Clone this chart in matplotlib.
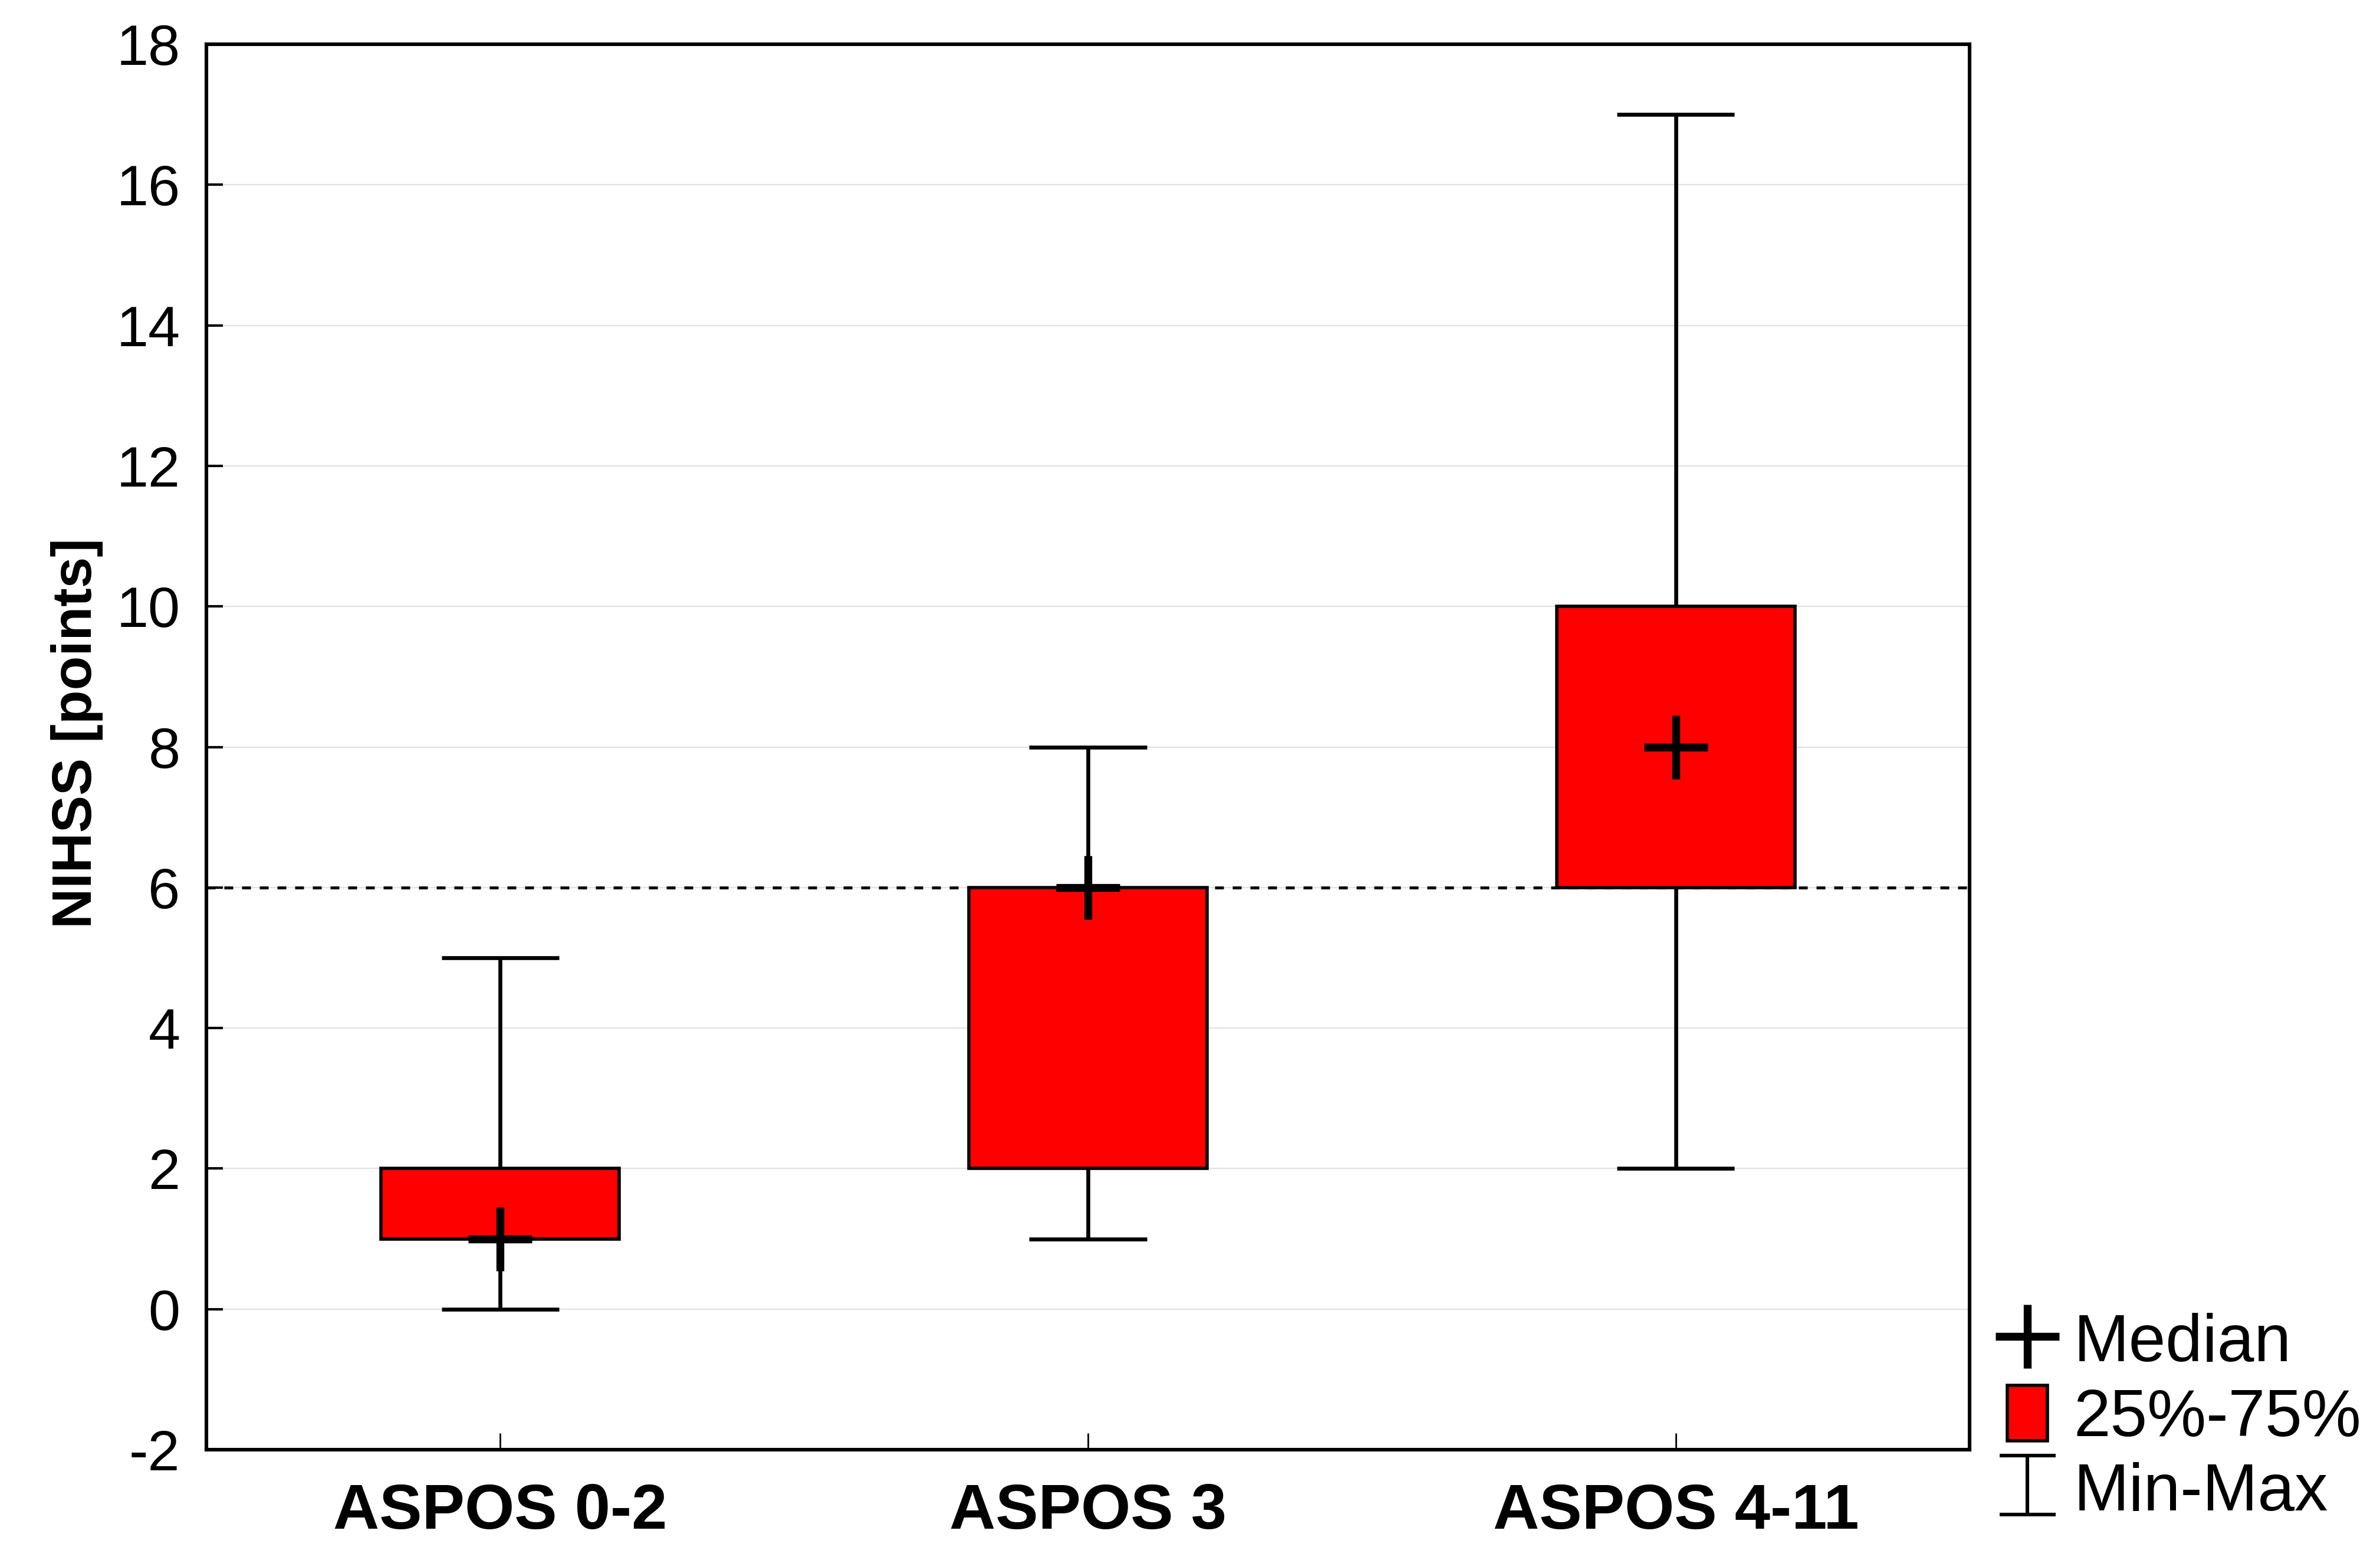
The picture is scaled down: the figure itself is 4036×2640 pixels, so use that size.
import matplotlib
matplotlib.use("Agg")
import matplotlib.pyplot as plt
from matplotlib.lines import Line2D
from matplotlib.patches import Patch
from matplotlib.path import Path

# ---- data ----
categories = ["ASPOS 0-2", "ASPOS 3", "ASPOS 4-11"]
medians = [1, 6, 8]
q1 = [1, 2, 6]
q3 = [2, 6, 10]
mins = [0, 1, 2]
maxs = [5, 8, 17]
ref_line = 6
yticks = [-2, 0, 2, 4, 6, 8, 10, 12, 14, 16, 18]

plt.rcParams['font.family'] = ['Liberation Sans', 'DejaVu Sans']

fig = plt.figure(figsize=(20.18, 13.2), dpi=200)
ax = fig.add_axes([0.0867, 0.0689, 0.8276 - 0.0867, 0.9716 - 0.0689])

x = list(range(len(categories)))

# grid
for yv in yticks:
    ax.axhline(yv, color='#e2e2e2', lw=0.8, zorder=0)

# reference dashed line
ax.axhline(ref_line, color='black', lw=1.8, ls=(0, (3, 3)), zorder=1)

# whiskers
ax.vlines(x, q3, maxs, color='black', lw=2.4, zorder=2)
ax.vlines(x, mins, q1, color='black', lw=2.4, zorder=2)
cap_w = 0.1
ax.hlines(maxs, [xi - cap_w for xi in x], [xi + cap_w for xi in x], color='black', lw=2.4, zorder=2)
ax.hlines(mins, [xi - cap_w for xi in x], [xi + cap_w for xi in x], color='black', lw=2.4, zorder=2)

# boxes
heights = [b - a for a, b in zip(q1, q3)]
ax.bar(x, heights, bottom=q1, width=0.405, color='#ff0000', edgecolor='black', lw=2.0, zorder=3)

# medians
ax.plot(x, medians, linestyle='None', marker='+', markersize=39, mew=4.8, color='black', zorder=4)

ax.set_xlim(-0.5, 2.5)
ax.set_ylim(-2, 18)
ax.set_yticks(yticks)
ax.set_yticklabels([str(v) for v in yticks])
ax.set_xticks(x)
ax.set_xticklabels(categories, fontweight='bold', fontsize=39)
ax.tick_params(axis='y', direction='in', length=10, width=1.5, labelsize=35, pad=16)
ax.tick_params(axis='x', direction='in', length=10, width=1.0, pad=20)
for s in ax.spines.values():
    s.set_linewidth(2.2)

ax.set_ylabel("NIHSS [points]", fontsize=34, fontweight='bold', labelpad=14)
ax.yaxis.set_label_coords(-0.0585, 0.51)

# legend
ibar = Path([(-0.95, -1), (0.95, -1), (0, -1), (0, 1), (-0.95, 1), (0.95, 1)],
            [Path.MOVETO, Path.LINETO, Path.MOVETO, Path.LINETO, Path.MOVETO, Path.LINETO])
handles = [
    Line2D([], [], linestyle='None', marker='+', markersize=39, mew=4.8, color='black'),
    Patch(facecolor='#ff0000', edgecolor='black', lw=2.0),
    Line2D([], [], linestyle='None', marker=ibar, markersize=36, mew=2.2, color='black', mfc='none'),
]
labels = ["Median", "25%-75%", "Min-Max"]
fig.legend(handles, labels, loc='upper left', bbox_to_anchor=(0.8435, 0.158),
           frameon=False, fontsize=40.5, handlelength=0.6, handleheight=0.9,
           handletextpad=0.4, labelspacing=0.15, borderpad=0.0, borderaxespad=0.0)

fig.savefig("out.png", dpi=200, facecolor='white')
